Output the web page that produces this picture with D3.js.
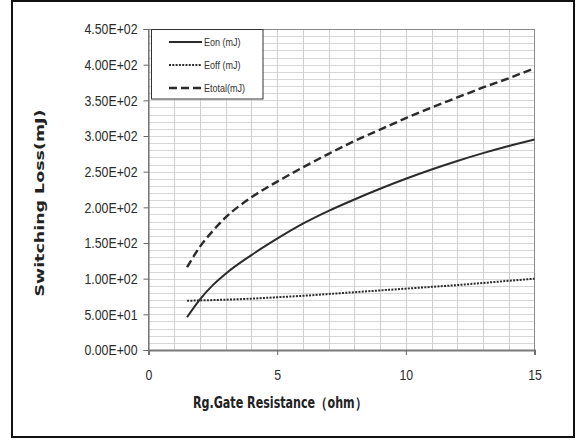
<!DOCTYPE html>
<html>
<head>
<meta charset="utf-8">
<script src="https://cdn.jsdelivr.net/npm/d3@7"></script>
<style>
  html, body { margin: 0; padding: 0; background: #fff; }
  svg { display: block; }
  .narrow { font-family: "Liberation Sans", Arial, sans-serif; }
</style>
</head>
<body>
<div id="chart"></div>
<script>
// Switching loss vs gate resistance, Excel-style line chart.

const rg = [1.5, 2, 2.5, 3, 4, 5, 6, 7, 8, 9, 10, 11, 12, 13, 14, 15];
const eon = [46, 71, 91, 107, 133, 156, 177, 195, 211, 226, 240, 253, 265, 276, 286, 295];
const eoff = [69, 69.5, 70, 70.5, 72, 74, 76, 78.5, 81, 83.5, 86, 88.5, 91, 94, 97, 100];
const etotal = [116, 145, 167, 186, 214, 236, 256, 275, 293, 309, 325, 340, 354, 368, 381, 395];

const seriesNames = ["Eon (mJ)", "Eoff (mJ)", "Etotal(mJ)"];
const xTicks = [0, 5, 10, 15];
const yTicks = [0, 50, 100, 150, 200, 250, 300, 350, 400, 450];
const yTickLabels = ["0.00E+00", "5.00E+01", "1.00E+02", "1.50E+02", "2.00E+02",
  "2.50E+02", "3.00E+02", "3.50E+02", "4.00E+02", "4.50E+02"];

const WIDTH = 581;
const HEIGHT = 440;
const margin = { top: 29, right: 46.5, bottom: 90, left: 148.5 };
const SQUEEZE = 0.82; // the source uses a condensed face; squash Arial metrics to match

// condense text horizontally by shrinking its advance length
function squeeze(sel) {
  sel.each(function () {
    const w = this.getComputedTextLength();
    d3.select(this).attr("textLength", w * SQUEEZE).attr("lengthAdjust", "spacingAndGlyphs");
  });
}

const svg = d3.select("#chart").append("svg")
  .attr("width", WIDTH)
  .attr("height", HEIGHT);

// outer frame
svg.append("rect")
  .attr("x", 12).attr("y", 1)
  .attr("width", 562).attr("height", 436)
  .attr("fill", "none")
  .attr("stroke", "#111")
  .attr("stroke-width", 2);

const x = d3.scaleLinear().domain([0, 15]).range([margin.left, WIDTH - margin.right]);
const y = d3.scaleLinear().domain([0, 450]).range([HEIGHT - margin.bottom, margin.top]);

const [x0, x1] = x.range();
const [y0, y1] = y.range();

// grid
const grid = svg.append("g").attr("class", "grid");
grid.selectAll("line.h").data(d3.range(10, 450, 10)).join("line")
  .attr("class", "h")
  .attr("x1", x0).attr("x2", x1)
  .attr("y1", (d) => Math.round(y(d)) + 0.5)
  .attr("y2", (d) => Math.round(y(d)) + 0.5)
  .attr("stroke", "#d6d6d6");
grid.selectAll("line.v").data(d3.range(1, 15)).join("line")
  .attr("class", "v")
  .attr("x1", (d) => Math.round(x(d)) + 0.5)
  .attr("x2", (d) => Math.round(x(d)) + 0.5)
  .attr("y1", y1).attr("y2", y0)
  .attr("stroke", "#cfcfcf");

// plot area border
svg.append("rect")
  .attr("x", x0).attr("y", y1 + 0.5)
  .attr("width", x1 - x0).attr("height", y0 - y1)
  .attr("fill", "none")
  .attr("stroke", "#8a8a8a");

// axes
const yAxis = svg.append("g")
  .attr("class", "narrow")
  .attr("transform", `translate(${x0},0)`)
  .call(d3.axisLeft(y).tickValues(yTicks)
    .tickFormat((d, i) => yTickLabels[i])
    .tickSize(5).tickPadding(6));
yAxis.select(".domain").attr("stroke", "#666");
yAxis.selectAll(".tick line").attr("stroke", "#666");
yAxis.selectAll(".tick text")
  .attr("font-size", 15)
  .attr("fill", "#2a2a2a")
  .attr("font-family", null)
  .call(squeeze);

const xAxis = svg.append("g")
  .attr("class", "narrow")
  .attr("transform", `translate(0,${y0})`)
  .call(d3.axisBottom(x).tickValues(xTicks).tickSize(5).tickPadding(14));
xAxis.select(".domain").attr("stroke", "#7a7a7a").attr("stroke-width", 2);
xAxis.selectAll(".tick line").attr("stroke", "#666");
xAxis.selectAll(".tick text")
  .attr("font-size", 15)
  .attr("fill", "#2a2a2a")
  .attr("font-family", null)
  .call(squeeze);

// axis titles
svg.append("text")
  .attr("transform", "translate(44,203) rotate(-90)")
  .attr("text-anchor", "middle")
  .attr("font-family", "'DejaVu Sans', Verdana, sans-serif")
  .attr("font-weight", "bold")
  .attr("font-size", 13)
  .attr("fill", "#222")
  .attr("textLength", 187)
  .attr("lengthAdjust", "spacingAndGlyphs")
  .text("Switching Loss(mJ)");

svg.append("text")
  .attr("x", 193).attr("y", 408)
  .attr("font-family", "'DejaVu Sans Condensed', 'DejaVu Sans', sans-serif")
  .attr("font-weight", "bold")
  .attr("font-size", 15)
  .attr("fill", "#222")
  .attr("textLength", 174)
  .attr("lengthAdjust", "spacingAndGlyphs")
  .text("Rg.Gate Resistance（ohm）");

// series
const series = [
  { name: seriesNames[0], values: eon, dash: null, width: 2 },
  { name: seriesNames[1], values: eoff, dash: "2,1.3", width: 2 },
  { name: seriesNames[2], values: etotal, dash: "8,4", width: 2.4 },
];

const line = d3.line()
  .curve(d3.curveMonotoneX)
  .x((d) => x(d[0]))
  .y((d) => y(d[1]));

svg.append("g").selectAll("path").data(series).join("path")
  .attr("d", (s) => line(rg.map((r, i) => [r, s.values[i]])))
  .attr("fill", "none")
  .attr("stroke", "#2b2b2b")
  .attr("stroke-width", (s) => s.width)
  .attr("stroke-dasharray", (s) => s.dash);

// legend
const legend = svg.append("g").attr("class", "narrow");
legend.append("rect")
  .attr("x", 151.5).attr("y", 29.5)
  .attr("width", 111.5).attr("height", 69.5)
  .attr("fill", "#fff")
  .attr("stroke", "#333");
const rowY = [42, 65, 88];
const item = legend.selectAll("g.item").data(series).join("g")
  .attr("class", "item")
  .attr("transform", (d, i) => `translate(0,${rowY[i]})`);
item.append("line")
  .attr("x1", 169).attr("x2", 202)
  .attr("stroke", "#2b2b2b")
  .attr("stroke-width", (s) => s.width)
  .attr("stroke-dasharray", (s) => s.dash);
item.append("text")
  .attr("x", 204).attr("y", 4)
  .attr("font-size", 11)
  .attr("fill", "#333")
  .text((s) => s.name)
  .call(squeeze);
</script>
</body>
</html>
